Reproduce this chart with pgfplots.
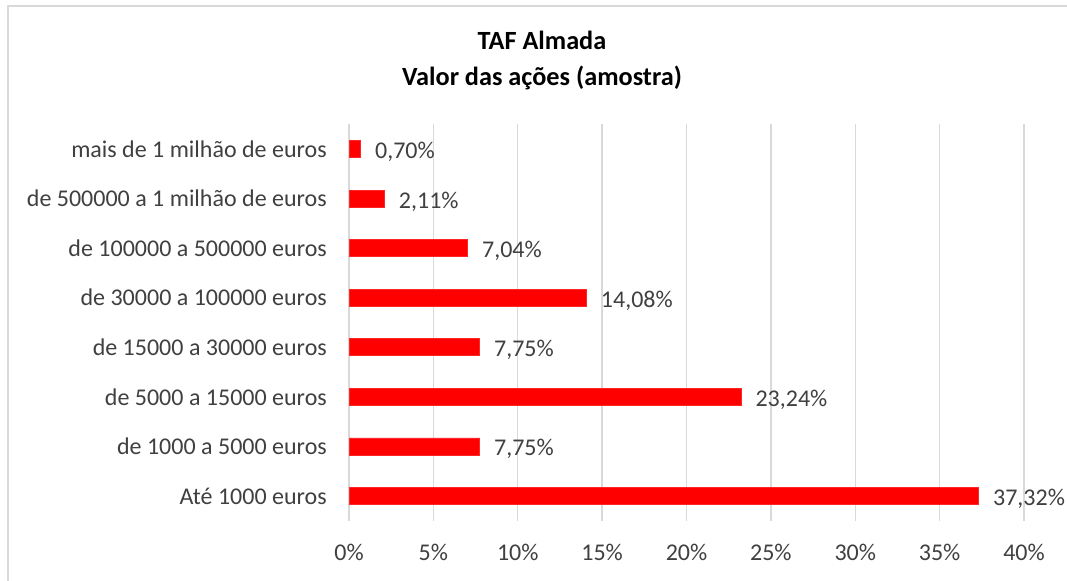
\documentclass[border=0pt]{standalone}
\usepackage{pgfplots}
\pgfplotsset{compat=1.18}
\usepackage{fontspec}
\setmainfont{Carlito}
\definecolor{lbl}{HTML}{404040}
\definecolor{gridc}{HTML}{D9D9D9}
\definecolor{barred}{HTML}{FF0000}
\begin{document}
\begin{tikzpicture}[x=1pt,y=1pt]
\path[use as bounding box] (0,0) rectangle (800.25,435.75);
\fill[white] (0,0) rectangle (800.25,435.75);
\draw[gridc, line width=1.5pt] (6,0) -- (6,431.25) -- (800.25,431.25);
\node[align=center, font=\fontsize{19.7}{27}\selectfont\bfseries, text=black] at (406.5,390.4) {TAF Almada\\Valor das ações (amostra)};
\begin{axis}[
  at={(261.75pt,45.15pt)}, anchor=south west,
  scale only axis, width=506.25pt, height=297.45pt,
  xbar, bar width=12.75pt,
  xmin=0, xmax=40, ymin=-0.5, ymax=7.5,
  xtick={0,5,...,40},
  ytick={0,...,7},
  yticklabels={Até 1000 euros, de 1000 a 5000 euros, de 5000 a 15000 euros, de 15000 a 30000 euros, de 30000 a 100000 euros, de 100000 a 500000 euros, de 500000 a 1 milhão de euros, mais de 1 milhão de euros},
  xmajorgrids, grid style={gridc, line width=1pt},
  axis line style={draw=none},
  major tick length=0pt,
  /pgf/number format/assume math mode=true,
  xticklabel={\pgfmathprintnumber{\tick}\%},
  tick label style={font=\fontsize{18}{21}\selectfont, text=lbl},
  yticklabel style={anchor=east, inner sep=0pt, xshift=-16.5pt},
  xticklabel style={anchor=north, inner sep=0pt, yshift=-17pt},
  nodes near coords={\pgfmathprintnumber[fixed,fixed zerofill,precision=2,use comma]{\pgfplotspointmeta}\%},
  nodes near coords style={anchor=base west, inner sep=0pt, xshift=10.5pt, yshift=-7.1pt, font=\fontsize{18}{21}\selectfont, text=lbl},
]
\addplot[fill=barred, draw=barred!85!white, line width=0.5pt] coordinates {
 (37.32,0) (7.75,1) (23.24,2) (7.75,3) (14.08,4) (7.04,5) (2.11,6) (0.70,7)
};
\end{axis}
\end{tikzpicture}
\end{document}
